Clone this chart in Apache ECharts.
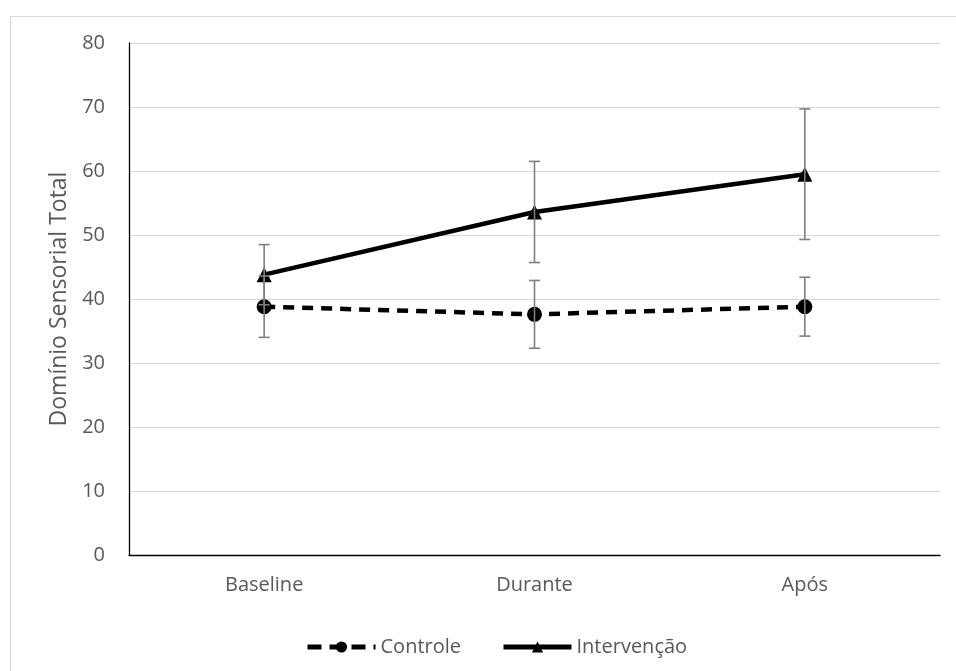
<!DOCTYPE html>
<html>
<head>
<meta charset="utf-8">
<script src="https://cdn.jsdelivr.net/npm/echarts@6/dist/echarts.min.js"></script>
<style>
html,body{margin:0;padding:0;background:#fff;}
#chart{width:956px;height:671px;}
</style>
</head>
<body>
<div id="chart"></div>
<script>
const categories = ['Baseline', 'Durante', 'Após'];
const controleMean = [38.8, 37.6, 38.8];
const controleErr = [4.8, 5.3, 4.6];
const intervencaoMean = [43.8, 53.6, 59.5];
const intervencaoErr = [4.7, 7.9, 10.2];
const yTicks = { min: 0, max: 80, interval: 10 };
const yTitle = 'Domínio Sensorial Total';
const seriesNames = ['Controle', 'Intervenção'];

const FONT = '"Open Sans", "Noto Sans", sans-serif';
const chart = echarts.init(document.getElementById('chart'), null, { renderer: 'canvas' });

function errData(mean, err) {
  return mean.map((m, i) => [i, m - err[i], m + err[i]]);
}
function errRender(params, api) {
  const x = api.value(0);
  const lo = api.coord([x, api.value(1)]);
  const hi = api.coord([x, api.value(2)]);
  const w = 5.5;
  const style = { stroke: '#7f7f7f', lineWidth: 1.6 };
  return {
    type: 'group',
    children: [
      { type: 'line', shape: { x1: lo[0], y1: lo[1], x2: hi[0], y2: hi[1] }, style },
      { type: 'line', shape: { x1: hi[0] - w, y1: hi[1], x2: hi[0] + w, y2: hi[1] }, style },
      { type: 'line', shape: { x1: lo[0] - w, y1: lo[1], x2: lo[0] + w, y2: lo[1] }, style }
    ]
  };
}

chart.setOption({
  animation: false,
  backgroundColor: '#fff',
  textStyle: { fontFamily: FONT },
  graphic: [{
    type: 'rect', left: 8, top: 14, shape: { width: 980, height: 700 },
    style: { fill: 'none', stroke: '#d9d9d9', lineWidth: 1.2 }, z: -10
  }],
  grid: { left: 129, right: 16, top: 43, bottom: 116 },
  legend: {
    left: 300, top: 632,
    itemWidth: 68, itemHeight: 14, itemGap: 40,
    textStyle: { fontSize: 20, color: '#595959', fontFamily: FONT },
    data: [
      { name: seriesNames[0], lineStyle: { width: 5, type: [14, 8] } },
      { name: seriesNames[1], lineStyle: { width: 5 } }
    ]
  },
  xAxis: {
    type: 'category', data: categories, boundaryGap: true,
    axisLine: { lineStyle: { color: '#000', width: 1.3 } },
    axisTick: { show: false },
    axisLabel: { fontSize: 20, color: '#595959', margin: 20, fontFamily: FONT },
    splitLine: { show: false }
  },
  yAxis: {
    type: 'value', min: yTicks.min, max: yTicks.max, interval: yTicks.interval,
    name: yTitle, nameLocation: 'middle', nameGap: 57,
    nameTextStyle: { fontSize: 23, color: '#595959', fontFamily: FONT },
    axisLine: { show: true, lineStyle: { color: '#000', width: 1.3 } },
    axisTick: { show: false },
    axisLabel: { fontSize: 20, color: '#595959', margin: 24, fontFamily: FONT },
    splitLine: { lineStyle: { color: '#d9d9d9', width: 1.2 } }
  },
  series: [
    {
      name: seriesNames[0], type: 'line', data: controleMean,
      symbol: 'circle', symbolSize: 15,
      itemStyle: { color: '#000' },
      lineStyle: { color: '#000', width: 4.5, type: [11, 8] },
      z: 3
    },
    {
      name: seriesNames[1], type: 'line', data: intervencaoMean,
      symbol: 'triangle', symbolSize: 15,
      itemStyle: { color: '#000' },
      lineStyle: { color: '#000', width: 4.5 },
      z: 3
    },
    {
      type: 'custom', name: 'errC', data: errData(controleMean, controleErr),
      renderItem: errRender, z: 4, silent: true
    },
    {
      type: 'custom', name: 'errI', data: errData(intervencaoMean, intervencaoErr),
      renderItem: errRender, z: 4, silent: true
    }
  ]
});
</script>
</body>
</html>
